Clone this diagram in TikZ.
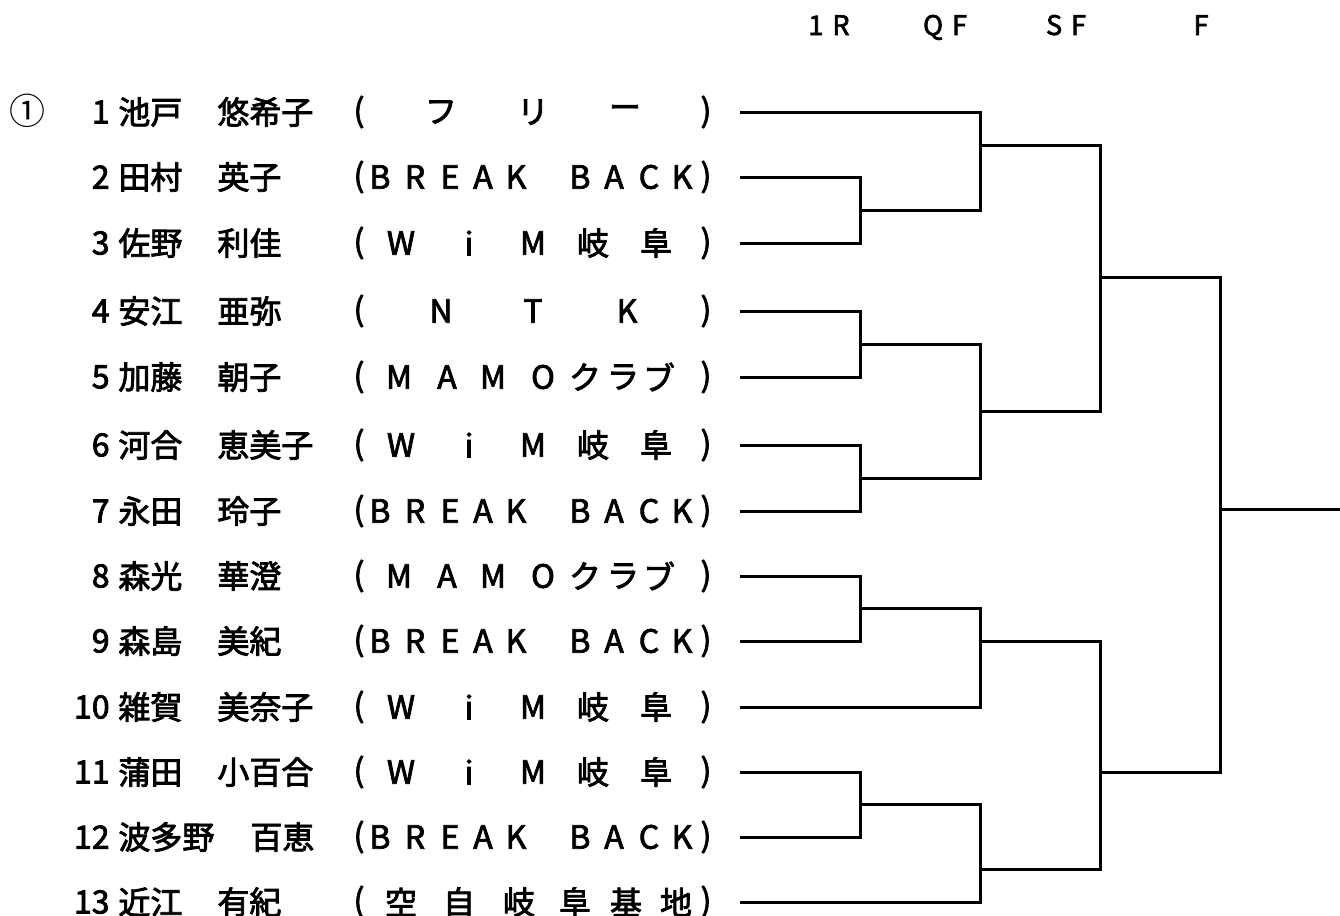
\documentclass[tikz,border=0pt]{standalone}
\usepackage{fontspec}
\setmainfont{Noto Sans CJK JP}[AutoFakeBold=2.5]

\tikzset{
  txt/.style={inner sep=0pt, font=\fontsize{16}{17}\selectfont\bfseries},
  head/.style={inner sep=0pt, anchor=base, font=\fontsize{13.5}{14}\selectfont\bfseries},
  bracket/.style={line width=1.5pt},
}

% team names, letter by letter: x/char
\def\tlFR{441/フ,533/リ,625/ー}
\def\tlBB{380/B,415/R,450/E,483/A,516/K,580/B,614/A,649/C,682/K}
\def\tlWM{401/W,469/i,533/M,593/岐,656/阜}
\def\tlNT{441/N,533/T,627/K}
\def\tlMA{399/M,447/A,493/M,543/O,585/ク,623/ラ,659/ブ}
\def\tlKJ{401/空,459/自,519/岐,575/阜,626/基,676/地}

\newcommand\team[3]{%
  \node[txt] (#1l) at (359,#2) {(};
  \node[txt] (#1r) at (706,#2) {)};
  \edef\tlist{\csname tl#3\endcsname}%
  \foreach \x/\ch [count=\k] in \tlist {\node[txt] (#1c\k) at (\x,#2) {\ch};}
}

\begin{document}
\begin{tikzpicture}[x=0.5pt,y=-0.5pt]
\useasboundingbox (0,0) rectangle (1340,916);

\node[head] (h1r) at (829,35) {1\,\,R};
\node[head] (hqf) at (945,35) {Q\,\,F};
\node[head] (hsf) at (1066,35) {S\,\,F};
\node[head] (hf) at (1201,35) {F};

\node[txt,font=\fontsize{18}{19}\selectfont] (seed) at (28,111) {①};

\foreach \r/\y/\fam/\giv/\gx/\tm in {
  1/112/池戸/悠希子/217/FR, 2/177/田村/英子/217/BB, 3/243/佐野/利佳/217/WM,
  4/311/安江/亜弥/217/NT, 5/377/加藤/朝子/217/MA, 6/445/河合/恵美子/217/WM,
  7/511/永田/玲子/217/BB, 8/576/森光/華澄/217/MA, 9/641/森島/美紀/217/BB,
  10/707/雑賀/美奈子/217/WM, 11/772/蒲田/小百合/217/WM, 12/837/波多野/百恵/250/BB,
  13/902/近江/有紀/217/KJ} {
  \node[txt,anchor=east] (n\r) at (110,\y) {\r};
  \node[txt,anchor=west] (f\r) at (118,\y) {\fam};
  \node[txt,anchor=west] (g\r) at (\gx,\y) {\giv};
  \team{t\r}{\y}{\tm}
  \coordinate (p\r) at (740,\y);
}

% 1R
\coordinate (m23) at (860,210);
\coordinate (m45) at (860,344);
\coordinate (m67) at (860,478);
\coordinate (m89) at (860,608);
\coordinate (m1112) at (860,804);
% QF
\coordinate (q1) at (980,145);
\coordinate (q2) at (980,411);
\coordinate (q3) at (980,641);
\coordinate (q4) at (980,869);
% SF, F
\coordinate (s1) at (1100,277);
\coordinate (s2) at (1100,772);
\coordinate (fin) at (1220,509);
\coordinate (champ) at (1340,509);

\draw[bracket] (p2) -| (m23) |- (p3);
\draw[bracket] (p4) -| (m45) |- (p5);
\draw[bracket] (p6) -| (m67) |- (p7);
\draw[bracket] (p8) -| (m89) |- (p9);
\draw[bracket] (p11) -| (m1112) |- (p12);

\draw[bracket] (p1) -| (q1) |- (m23);
\draw[bracket] (m45) -| (q2) |- (m67);
\draw[bracket] (m89) -| (q3) |- (p10);
\draw[bracket] (m1112) -| (q4) |- (p13);

\draw[bracket] (q1) -| (s1) |- (q2);
\draw[bracket] (q3) -| (s2) |- (q4);
\draw[bracket] (s1) -| (fin) |- (s2);
\draw[bracket] (fin) -- (champ);

\end{tikzpicture}
\end{document}
